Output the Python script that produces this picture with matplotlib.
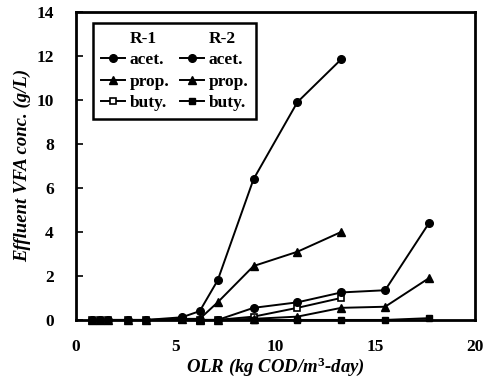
import matplotlib
matplotlib.use('Agg')
import matplotlib.pyplot as plt
from matplotlib.lines import Line2D

plt.rcParams['font.family'] = ['Liberation Serif', 'DejaVu Serif']
plt.rcParams['font.weight'] = 'bold'
plt.rcParams['mathtext.fontset'] = 'custom'
plt.rcParams['mathtext.it'] = 'Liberation Serif:italic:bold'
plt.rcParams['mathtext.rm'] = 'Liberation Serif:bold'

# R-1 reactor
olr_r1 = [0.8, 1.2, 1.6, 2.6, 3.5, 5.3, 6.2, 7.1, 8.9, 11.1, 13.3]
acet_r1 = [0, 0, 0, 0, 0, 0.12, 0.4, 1.8, 6.4, 9.9, 11.85]
prop_r1 = [0, 0, 0, 0, 0, 0.05, 0.05, 0.8, 2.45, 3.1, 4.0]
buty_r1 = [0, 0, 0, 0, 0, 0, 0, 0, 0.15, 0.55, 1.0]

# R-2 reactor
olr_r2 = [6.2, 7.1, 8.9, 11.1, 13.3, 15.5, 17.7]
acet_r2 = [0, 0, 0.55, 0.8, 1.25, 1.35, 4.4]
prop_r2 = [0, 0, 0.05, 0.15, 0.55, 0.6, 1.9]
buty_r2 = [0, 0, 0, 0, 0, 0, 0.08]

fig = plt.figure(figsize=(4.85, 3.85), dpi=100)
ax = fig.add_axes([0.157, 0.169, 0.822, 0.80])

lw = 1.4
ms = 5.5
ax.plot(olr_r1, buty_r1, color='black', lw=lw, marker='s', ms=ms-1, mfc='white', mew=1.2, clip_on=False)
ax.plot(olr_r2, buty_r2, color='black', lw=lw, marker='s', ms=ms-1, clip_on=False)
ax.plot(olr_r1, prop_r1, color='black', lw=lw, marker='^', ms=ms, clip_on=False)
ax.plot(olr_r2, prop_r2, color='black', lw=lw, marker='^', ms=ms, clip_on=False)
ax.plot(olr_r2, acet_r2, color='black', lw=lw, marker='o', ms=ms, clip_on=False)
ax.plot(olr_r1, acet_r1, color='black', lw=lw, marker='o', ms=ms, clip_on=False)

ax.set_xlim(0, 20)
ax.set_ylim(0, 14)
ax.set_xticks([0, 5, 10, 15, 20])
ax.set_yticks(range(0, 15, 2))
ax.tick_params(axis='y', direction='in', length=5, width=1.2, labelsize=12.5, pad=16)
ax.tick_params(axis='x', length=0, labelsize=12.5, pad=14)
for s in ax.spines.values():
    s.set_linewidth(2)

ax.set_xlabel('OLR (kg COD/m$^{3}$-day)', fontsize=13.5, fontweight='bold', style='italic', labelpad=0)
ax.set_ylabel('Effluent VFA conc. (g/L)', fontsize=13.5, fontweight='bold', style='italic', labelpad=4)

blank = Line2D([], [], color='none')
h = [blank,
     Line2D([], [], color='black', lw=lw, marker='o', ms=ms),
     Line2D([], [], color='black', lw=lw, marker='^', ms=ms),
     Line2D([], [], color='black', lw=lw, marker='s', ms=ms-1, mfc='white', mew=1.2),
     blank,
     Line2D([], [], color='black', lw=lw, marker='o', ms=ms),
     Line2D([], [], color='black', lw=lw, marker='^', ms=ms),
     Line2D([], [], color='black', lw=lw, marker='s', ms=ms-1)]
labels = ['R-1', 'acet.', 'prop.', 'buty.', 'R-2', 'acet.', 'prop.', 'buty.']
leg = ax.legend(h, labels, ncol=2, loc='upper left', bbox_to_anchor=(0.043, 0.964),
                borderaxespad=0, fancybox=False, framealpha=1, edgecolor='black',
                handlelength=1.4, handletextpad=0.25, columnspacing=0.6,
                labelspacing=0.3, borderpad=0.45, prop={'size': 12.5, 'weight': 'bold'})
leg.get_frame().set_linewidth(1.8)

fig.savefig('out.png', dpi=100)
